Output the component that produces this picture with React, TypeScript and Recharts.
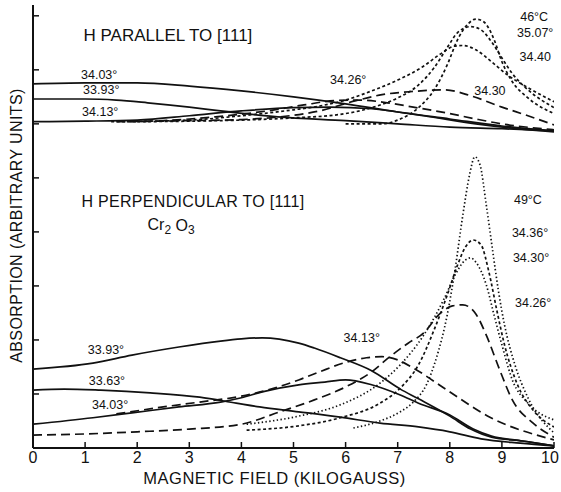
import React from 'react';
import { LineChart, Line, XAxis, YAxis, ReferenceDot, Label } from 'recharts';

const FONT = '"Liberation Sans", Arial, sans-serif';
const INK = '#111';
const TICK_LEN = 6;
const X_TICK_MARGIN = 4;

// x ticks (kilogauss) and y tick positions (arbitrary units)
const xTicks = [0, 1, 2, 3, 4, 5, 6, 7, 8, 9, 10];
const innerXTicks = [1, 2, 3, 4, 5, 6, 7, 8, 9];
const yTicks = [1, 2, 3, 4, 5, 6, 7, 8];

// ---- H parallel to [111] (upper group) ----
const par3403: [number, number][] = [[0,6.74],[1,6.76],[2,6.76],[3,6.70],[4,6.61],[5,6.50],[6,6.37],[7,6.22],[8,6.09],[9,5.96],[10,5.87]];
const par3393: [number, number][] = [[0,6.46],[1,6.46],[1.6,6.44],[2.2,6.39],[3,6.31],[3.6,6.24],[4.7,6.13],[6,6.06],[7,6.00],[8,5.94],[9,5.91],[10,5.87]];
const par3413: [number, number][] = [[0,6.04],[1,6.05],[2,6.07],[3,6.15],[4,6.24],[5,6.30],[5.7,6.31],[6.5,6.28],[7.5,6.15],[8.5,6.00],[9.3,5.91],[10,5.85]];
const par3426: [number, number][] = [[1.6,6.04],[2.5,6.06],[3.5,6.13],[4.5,6.24],[5.2,6.35],[5.8,6.43],[6.3,6.44],[6.8,6.39],[7.3,6.31],[8,6.19],[8.5,6.09],[9,6.00],[10,5.89]];
const par3430: [number, number][] = [[1.8,6.04],[3,6.06],[4,6.08],[4.74,6.13],[5.5,6.24],[6.2,6.43],[6.7,6.54],[7.3,6.60],[7.9,6.63],[8.4,6.52],[9,6.31],[9.5,6.15],[10,5.98]];
const par3440: [number, number][] = [[1.5,6.04],[3,6.07],[4,6.15],[5,6.26],[5.5,6.33],[6,6.44],[6.5,6.61],[7,6.81],[7.5,7.07],[7.8,7.28],[8.1,7.44],[8.25,7.45],[8.5,7.37],[8.8,7.15],[9.1,6.91],[9.5,6.67],[10,6.41]];
const par3507: [number, number][] = [[2,6.04],[4,6.07],[5,6.11],[6,6.19],[6.5,6.30],[7,6.48],[7.4,6.72],[7.7,7.04],[7.95,7.41],[8.15,7.69],[8.4,7.80],[8.6,7.74],[8.8,7.52],[9,7.22],[9.2,6.93],[9.5,6.63],[10,6.30]];
const par46C: [number, number][] = [[6,6.00],[6.7,6.00],[7,6.07],[7.4,6.30],[7.7,6.63],[7.95,7.09],[8.15,7.56],[8.35,7.85],[8.5,7.94],[8.65,7.89],[8.85,7.56],[9,7.15],[9.2,6.78],[9.5,6.48],[10,6.19]];

// ---- H perpendicular to [111] (lower group) ----
const per3393: [number, number][] = [[0,1.46],[1.15,1.57],[1.9,1.72],[2.8,1.87],[3.6,1.98],[4,2.02],[4.4,2.04],[5.1,1.94],[5.4,1.85],[5.9,1.67],[6.5,1.43],[7.05,1.09],[7.4,0.91],[8,0.59],[8.4,0.35],[8.8,0.20],[9.4,0.13],[10,0.04]];
const per3363: [number, number][] = [[0,1.07],[0.6,1.09],[1.3,1.07],[2.25,1.02],[3.2,0.94],[3.9,0.83],[4.35,0.76],[5.1,0.67],[5.9,0.57],[6.66,0.46],[7.4,0.39],[8,0.30],[8.6,0.17],[9.35,0.09],[10,0.04]];
const per3403: [number, number][] = [[0,0.44],[1.15,0.56],[1.9,0.65],[2.8,0.76],[3.6,0.85],[4,0.93],[4.4,1.04],[5.1,1.17],[5.6,1.22],[6,1.26],[6.5,1.17],[7.05,0.98],[7.4,0.83],[8,0.61],[8.45,0.35],[8.8,0.22],[9.4,0.13],[10,0.04]];
const per3413: [number, number][] = [[1.6,0.63],[2.5,0.76],[3.2,0.85],[4,0.96],[4.6,1.10],[5.1,1.26],[5.5,1.41],[5.95,1.57],[6.4,1.67],[6.7,1.69],[7,1.63],[7.3,1.48],[7.95,1.07],[8.77,0.57],[10,0.15]];
const per3426: [number, number][] = [[0,0.24],[1,0.26],[2,0.30],[3,0.35],[4,0.44],[4.74,0.67],[5.4,0.89],[6,1.13],[6.5,1.41],[6.85,1.69],[7.2,1.94],[7.5,2.13],[7.8,2.48],[8.05,2.63],[8.25,2.65],[8.5,2.48],[8.7,2.09],[8.96,1.44],[9.2,0.89],[9.6,0.46],[10,0.20]];
const per3430: [number, number][] = [[4.1,0.44],[5.1,0.59],[5.9,0.80],[6.66,1.20],[7.05,1.54],[7.5,2.09],[7.9,2.78],[8.1,3.20],[8.3,3.48],[8.4,3.52],[8.5,3.44],[8.7,3.02],[8.85,2.46],[9,1.91],[9.2,1.26],[9.5,0.83],[10,0.52]];
const per3436: [number, number][] = [[4.1,0.33],[5.1,0.41],[5.9,0.56],[6.66,0.83],[7.05,1.11],[7.4,1.54],[7.7,2.19],[7.95,2.83],[8.15,3.39],[8.3,3.72],[8.45,3.85],[8.6,3.76],[8.75,3.26],[8.9,2.56],[9.05,1.91],[9.3,1.17],[9.6,0.70],[10,0.39]];
const per49C: [number, number][] = [[6.15,0.37],[6.66,0.50],[7.05,0.67],[7.3,0.85],[7.55,1.17],[7.75,1.69],[7.95,2.46],[8.1,3.30],[8.25,4.31],[8.38,5.06],[8.48,5.39],[8.58,5.24],[8.7,4.50],[8.82,3.67],[8.93,2.93],[9.05,2.28],[9.25,1.54],[9.5,0.93],[10,0.28]];

// curve labels: [text, x (kG), y (units)]
const curveLabels: [string, number, number][] = [
  ['34.03°', 1.27, 6.91],
  ['33.93°', 1.31, 6.63],
  ['34.13°', 1.29, 6.22],
  ['34.26°', 6.05, 6.81],
  ['34.30', 8.77, 6.61],
  ['46°C', 9.62, 7.97],
  ['35.07°', 9.64, 7.68],
  ['34.40', 9.64, 7.24],
  ['49°C', 9.5, 4.59],
  ['34.36°', 9.54, 3.98],
  ['34.30°', 9.56, 3.52],
  ['34.26°', 9.6, 2.69],
  ['33.93°', 1.4, 1.81],
  ['33.63°', 1.42, 1.24],
  ['34.03°', 1.48, 0.80],
  ['34.13°', 6.31, 2.04],
];

const SOLID = undefined;
const LONG = '9 5';
const SHORT = '3 2.5';
const DOT = '1.4 2.4';

const series: { key: string; data: [number, number][]; dash?: string }[] = [
  { key: 'p3403', data: par3403, dash: SOLID },
  { key: 'p3393', data: par3393, dash: SOLID },
  { key: 'p3413', data: par3413, dash: SOLID },
  { key: 'p3426', data: par3426, dash: LONG },
  { key: 'p3430', data: par3430, dash: LONG },
  { key: 'p3440', data: par3440, dash: SHORT },
  { key: 'p3507', data: par3507, dash: SHORT },
  { key: 'p46', data: par46C, dash: SHORT },
  { key: 'q3393', data: per3393, dash: SOLID },
  { key: 'q3363', data: per3363, dash: SOLID },
  { key: 'q3403', data: per3403, dash: SOLID },
  { key: 'q3413', data: per3413, dash: LONG },
  { key: 'q3426', data: per3426, dash: LONG },
  { key: 'q3430', data: per3430, dash: DOT },
  { key: 'q3436', data: per3436, dash: SHORT },
  { key: 'q49', data: per49C, dash: DOT },
];

const toPts = (d: [number, number][]) => d.map(([x, y]) => ({ x, y }));

const TextMark = (props: any) => {
  const { cx, cy, text, size, children, spacing } = props;
  if (cx == null || cy == null) return null;
  return (
    <text x={cx} y={cy} textAnchor="middle" dominantBaseline="central" fontSize={size} fill={INK} fontFamily={FONT} letterSpacing={spacing ?? 0}>
      {children ?? text}
    </text>
  );
};

// bottom axis tick: inward tick mark + number label
const BottomTick = (props: any) => {
  const { x, y, payload } = props;
  const isLast = payload.value === 10;
  return (
    <g>
      <line x1={x} x2={x} y1={y - X_TICK_MARGIN} y2={y - X_TICK_MARGIN - TICK_LEN} stroke={INK} strokeWidth={1.5} />
      <text x={isLast ? x - 4 : x} y={y} dy="0.71em" textAnchor="middle" fontSize={16} fill={INK} fontFamily={FONT}>
        {payload.value}
      </text>
    </g>
  );
};
const TopTick = (props: any) => {
  const { x, y } = props;
  return <line x1={x} x2={x} y1={y} y2={y + TICK_LEN} stroke={INK} strokeWidth={1.5} />;
};
const LeftTick = (props: any) => {
  const { x, y } = props;
  return <line x1={x} x2={x + TICK_LEN} y1={y} y2={y} stroke={INK} strokeWidth={1.5} />;
};
const RightTick = (props: any) => {
  const { x, y } = props;
  return <line x1={x} x2={x - TICK_LEN} y1={y} y2={y} stroke={INK} strokeWidth={1.5} />;
};

const XLab = (props: any) => {
  const vb = props.viewBox || {};
  return (
    <text x={vb.x + vb.width / 2 - 19} y={vb.y + 29.5} textAnchor="middle" dominantBaseline="central" fontSize={16.5} fill={INK} fontFamily={FONT} letterSpacing={0.5}>
      MAGNETIC FIELD (KILOGAUSS)
    </text>
  );
};

const YLab = (props: any) => {
  const vb = props.viewBox || {};
  const cx = vb.x + 16;
  const cy = vb.y + vb.height / 2 - 1;
  return (
    <text x={cx} y={cy} transform={`rotate(-90 ${cx} ${cy})`} textAnchor="middle" dominantBaseline="central" fontSize={16} fill={INK} fontFamily={FONT} letterSpacing={0.4}>
      ABSORPTION (ARBITRARY UNITS)
    </text>
  );
};

export default function App() {
  const axisLine = { stroke: INK, strokeWidth: 2 };
  return (
    <div style={{ position: 'absolute', left: 0, top: 0, background: '#fff' }}>
      <LineChart width={561} height={492} margin={{ top: 5, right: 7, left: 0, bottom: 0 }}>
        <XAxis
          type="number"
          dataKey="x"
          domain={[0, 10]}
          ticks={xTicks}
          interval={0}
          height={44}
          tickSize={0}
          tickMargin={X_TICK_MARGIN}
          axisLine={axisLine}
          tickLine={false}
          tick={<BottomTick />}
          allowDataOverflow
        >
          <Label content={<XLab />} />
        </XAxis>
        <XAxis
          xAxisId="top"
          orientation="top"
          type="number"
          dataKey="x"
          domain={[0, 10]}
          ticks={innerXTicks}
          interval={0}
          height={0}
          tickSize={0}
          tickMargin={0}
          axisLine={axisLine}
          tickLine={false}
          tick={<TopTick />}
        />
        <YAxis
          type="number"
          domain={[0, 8.2]}
          ticks={yTicks}
          interval={0}
          width={33}
          tickSize={0}
          tickMargin={0}
          axisLine={axisLine}
          tickLine={false}
          tick={<LeftTick />}
          allowDataOverflow
        >
          <Label content={<YLab />} />
        </YAxis>
        <YAxis
          yAxisId="right"
          orientation="right"
          type="number"
          domain={[0, 8.2]}
          ticks={yTicks}
          interval={0}
          width={0}
          tickSize={0}
          tickMargin={0}
          axisLine={axisLine}
          tickLine={false}
          tick={<RightTick />}
        />
        {series.map((s) => (
          <Line
            key={s.key}
            data={toPts(s.data)}
            dataKey="y"
            type="monotone"
            dot={false}
            activeDot={false}
            stroke={INK}
            strokeWidth={1.7}
            strokeDasharray={s.dash}
            isAnimationActive={false}
          />
        ))}
        {curveLabels.map(([t, x, y], i) => (
          <ReferenceDot
            key={'l' + i}
            x={x}
            y={y}
            r={0}
            ifOverflow="visible"
            shape={(p: any) => <TextMark {...p} text={t} size={12.5} />}
          />
        ))}
        <ReferenceDot
          x={2.59}
          y={7.63}
          r={0}
          ifOverflow="visible"
          shape={(p: any) => <TextMark {...p} text="H PARALLEL TO [111]" size={17} />}
        />
        <ReferenceDot
          x={3.07}
          y={4.56}
          r={0}
          ifOverflow="visible"
          shape={(p: any) => <TextMark {...p} text="H PERPENDICULAR TO [111]" size={16} spacing={0.3} />}
        />
        <ReferenceDot
          x={2.65}
          y={4.13}
          r={0}
          ifOverflow="visible"
          shape={(p: any) => (
            <TextMark {...p} size={16}>
              Cr<tspan fontSize={12} dy={5}>2</tspan>
              <tspan dy={-5}> O</tspan>
              <tspan fontSize={12} dy={5}>3</tspan>
            </TextMark>
          )}
        />
      </LineChart>
    </div>
  );
}
